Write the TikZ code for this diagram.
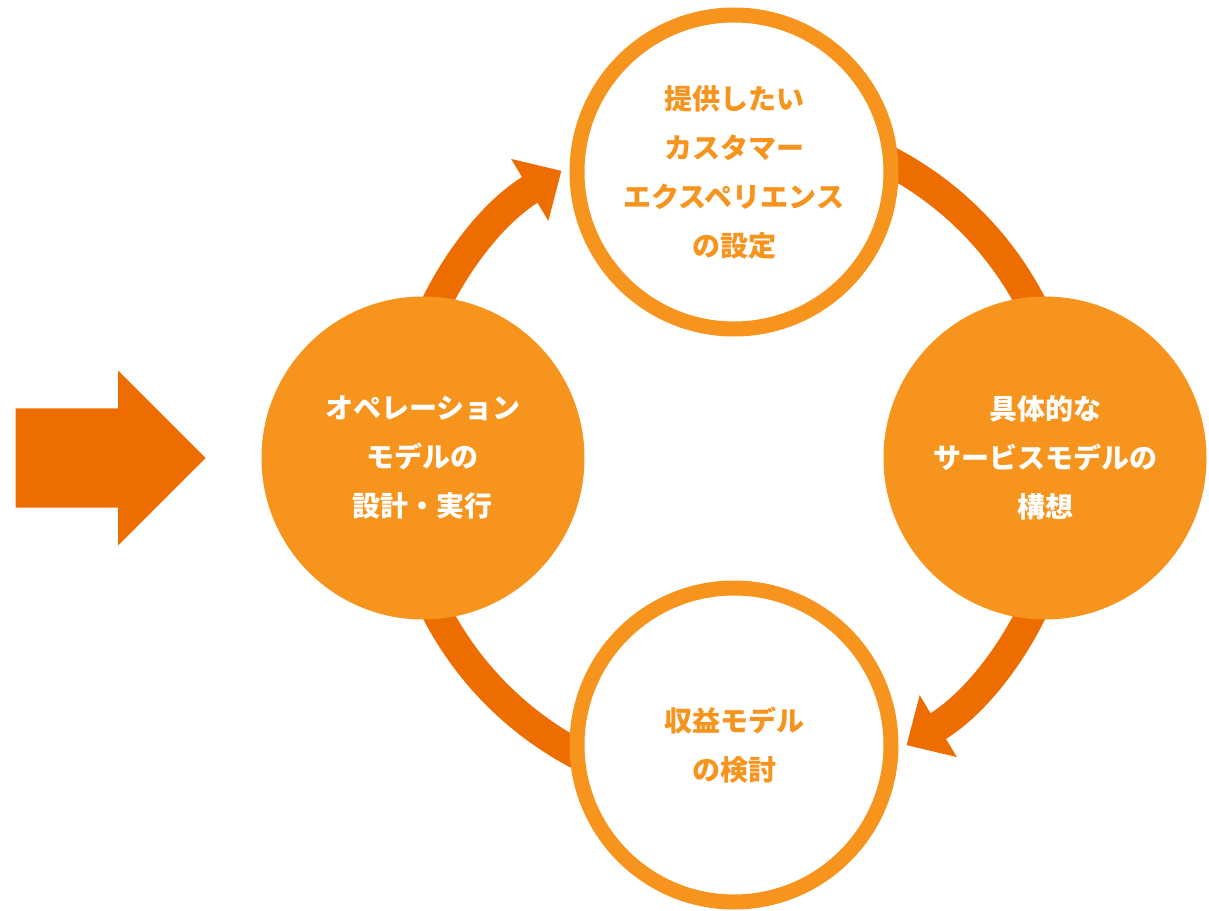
\documentclass[tikz,border=0pt]{standalone}
\usepackage{fontspec}
\usepackage{tikz}
\usetikzlibrary{shapes,arrows.meta,backgrounds}
\usepackage{xcolor}
\newfontfamily\jpfont{Noto Sans CJK JP}
\definecolor{lightorange}{RGB}{246,148,30}
\definecolor{deeporange}{RGB}{237,109,0}

\begin{document}
\begin{tikzpicture}[x=1pt, y=1pt,
    cjktext/.style={font=\jpfont\bfseries\fontsize{28}{49}\selectfont, align=center},
    ring/.style={circle, draw=lightorange, line width=15pt, fill=white, minimum size=314pt, inner sep=0pt, text=lightorange, cjktext},
    disc/.style={circle, fill=lightorange, minimum size=323pt, inner sep=0pt, text=white, cjktext},
    flow/.style={draw=deeporange, line width=30pt}]
    \useasboundingbox (-734,-452) rectangle (475,458);
    \coordinate (hub) at (0,0);

    \node[ring] (goal) at (0,286) {提供したい\\カスタマー\\エクスペリエンス\\の設定};
    \node[disc] (concept) at (311,0) {具体的な\\サービスモデルの\\構想};
    \node[ring] (revenue) at (0,-287) {収益モデル\\の検討};
    \node[disc] (operation) at (-311,0) {オペレーション\\モデルの\\設計・実行};

    \node[single arrow, fill=deeporange, minimum height=190pt, inner xsep=0pt, inner ysep=49.5pt, single arrow head extend=38pt, single arrow tip angle=90, anchor=tip] (entry) at (-528,0) {};

    % cycle arcs behind the circles
    \begin{scope}[on background layer]
        \draw[flow, -{Triangle[length=37pt, width=70pt]}] ([shift={(165:335pt)}]hub) arc[start angle=165, end angle=121, radius=335pt];
        \draw[flow] ([shift={(65:335pt)}]hub) arc[start angle=65, end angle=15, radius=335pt];
        \draw[flow, -{Triangle[length=37pt, width=70pt]}] ([shift={(-15:335pt)}]hub) arc[start angle=-15, end angle=-59, radius=335pt];
        \draw[flow] ([shift={(-115:335pt)}]hub) arc[start angle=-115, end angle=-165, radius=335pt];
    \end{scope}
\end{tikzpicture}
\end{document}
